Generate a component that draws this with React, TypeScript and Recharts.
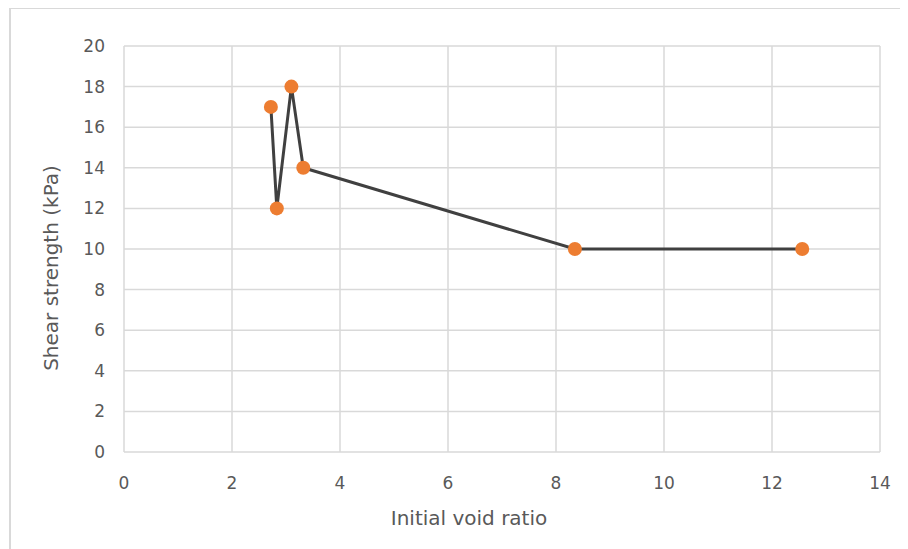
import { LineChart, Line, XAxis, YAxis, CartesianGrid } from "recharts";

// initial void ratio vs shear strength
const voidRatio = [2.72, 2.83, 3.1, 3.32, 8.35, 12.56];
const shearStrength = [17, 12, 18, 14, 10, 10];

const X_TICKS = [0, 2, 4, 6, 8, 10, 12, 14];
const Y_TICKS = [0, 2, 4, 6, 8, 10, 12, 14, 16, 18, 20];

const FONT = "'DejaVu Sans', sans-serif";
const TEXT_GREY = "#595959";
const GRID_GREY = "#d9d9d9";

const data = voidRatio.map((x, i) => ({ x, y: shearStrength[i] }));

export default function App() {
  return (
    <div
      style={{
        position: "relative",
        width: 900,
        height: 541,
        overflow: "hidden",
        background: "#fff",
      }}
    >
      <div
        style={{
          position: "absolute",
          left: 1,
          top: -1,
          width: 2000,
          height: 2000,
          border: `2px solid ${GRID_GREY}`,
        }}
      />
      <div style={{ position: "absolute", left: 0, top: 0 }}>
        <LineChart
          width={900}
          height={541}
          data={data}
          margin={{ top: 38, right: 28, bottom: 0, left: 0 }}
        >
          <CartesianGrid stroke={GRID_GREY} strokeWidth={1.5} />
          <XAxis
            dataKey="x"
            type="number"
            domain={[0, 14]}
            ticks={X_TICKS}
            height={97}
            axisLine={false}
            tickLine={false}
            tickSize={0}
            tickMargin={25}
            tick={{ fontSize: 17, fill: TEXT_GREY, fontFamily: FONT }}
            label={{
              value: "Initial void ratio",
              position: "center",
              dx: -33,
              dy: 17,
              fontSize: 20,
              fill: TEXT_GREY,
              fontFamily: FONT,
            }}
          />
          <YAxis
            type="number"
            domain={[0, 20]}
            ticks={Y_TICKS}
            width={116}
            axisLine={false}
            tickLine={false}
            tickSize={0}
            tickMargin={19}
            tick={{ fontSize: 17, fill: TEXT_GREY, fontFamily: FONT }}
            label={{
              value: "Shear strength (kPa)",
              angle: -90,
              position: "center",
              dx: -15,
              dy: 19,
              fontSize: 20,
              fill: TEXT_GREY,
              fontFamily: FONT,
            }}
          />
          <Line
            dataKey="y"
            type="linear"
            stroke="#404040"
            strokeWidth={3}
            dot={{ r: 7, fill: "#ED7D31", stroke: "#ED7D31", strokeWidth: 0 }}
            activeDot={false}
            isAnimationActive={false}
          />
        </LineChart>
      </div>
    </div>
  );
}
